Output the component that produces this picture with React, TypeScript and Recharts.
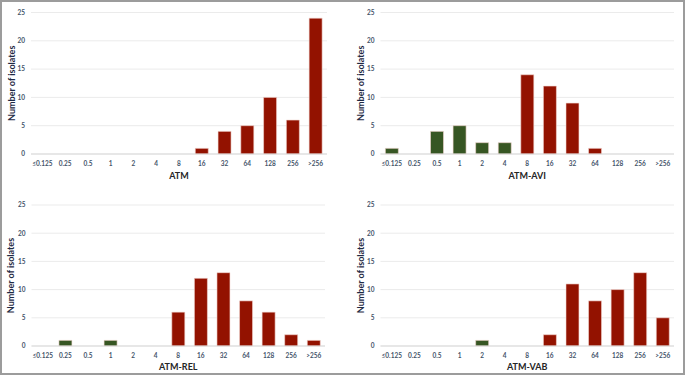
import { BarChart, Bar, XAxis, YAxis, CartesianGrid, Cell } from "recharts";

const micCategories = ["≤0.125", "0.25", "0.5", "1", "2", "4", "8", "16", "32", "64", "128", "256", ">256"];
const atmValues = [0, 0, 0, 0, 0, 0, 0, 1, 4, 5, 10, 6, 24];
const atmAviValues = [1, 0, 4, 5, 2, 2, 14, 12, 9, 1, 0, 0, 0];
const atmRelValues = [0, 1, 0, 1, 0, 0, 6, 12, 13, 8, 6, 2, 1];
const atmVabValues = [0, 0, 0, 0, 1, 0, 0, 2, 11, 8, 10, 13, 5];
const yTicks = [0, 5, 10, 15, 20, 25];
// MICs at or under the breakpoint get the green fill
const susceptibleCategories = ["≤0.125", "0.25", "0.5", "1", "2", "4"];

const RED = "#931200";
const GREEN = "#375623";

function Panel({
  title,
  values,
  left,
  top,
  width,
  height,
  margin,
  yAxisWidth,
  yLabelOffset,
  xAxisHeight,
  titleOffset,
  xTickMargin,
}: {
  title: string;
  values: number[];
  left: number;
  top: number;
  width: number;
  height: number;
  margin: { top: number; right: number; bottom: number; left: number };
  yAxisWidth: number;
  yLabelOffset: number;
  xAxisHeight: number;
  titleOffset: number;
  xTickMargin: number;
}) {
  const data = micCategories.map((mic, i) => ({ mic, count: values[i] }));
  return (
    <div style={{ position: "absolute", left, top, width, height }}>
      <BarChart width={width} height={height} data={data} margin={margin} barCategoryGap="21.5%">
        <CartesianGrid vertical={false} stroke="#ebebeb" />
        <XAxis
          dataKey="mic"
          interval={0}
          height={xAxisHeight}
          axisLine={{ stroke: "#d9d9d9" }}
          tickLine={false}
          tickSize={3}
          tickMargin={xTickMargin}
          tick={{ fontSize: 6.5, fill: "#44546a", fontWeight: 700 }}
          label={{
            value: title,
            position: "insideBottom",
            offset: titleOffset,
            style: { fontSize: 9, fontWeight: 700, fill: "#262626" },
          }}
        />
        <YAxis
          domain={[0, 25]}
          ticks={yTicks}
          width={yAxisWidth}
          axisLine={false}
          tickLine={false}
          tickSize={4}
          tickMargin={2}
          tick={{ fontSize: 6.5, fill: "#44546a", fontWeight: 700 }}
          label={{
            value: "Number of isolates",
            angle: -90,
            position: "insideLeft",
            offset: yLabelOffset,
            style: { fontSize: 9, fontWeight: 700, fill: "#1f2a44", textAnchor: "middle" },
          }}
        />
        <Bar dataKey="count" isAnimationActive={false} stroke="#f3d6d2" strokeWidth={0.6}>
          {data.map((d, i) => (
            <Cell key={i} fill={susceptibleCategories.includes(d.mic) ? GREEN : RED} />
          ))}
        </Bar>
      </BarChart>
    </div>
  );
}

export default function App() {
  return (
    <div
      style={{
        position: "absolute",
        left: 0,
        top: 0,
        width: 685,
        height: 375,
        background: "#fff",
        fontFamily: "Lato, 'Open Sans', sans-serif",
        border: "2px solid #9c9c9c",
        boxSizing: "border-box",
        overflow: "hidden",
      }}
    >
      <Panel
        title="ATM"
        values={atmValues}
        left={-2}
        top={-2}
        width={340}
        height={190}
        margin={{ top: 12.5, right: 13, bottom: 6, left: 0 }}
        yAxisWidth={31}
        yLabelOffset={12}
        xAxisHeight={30}
        titleOffset={5.5}
        xTickMargin={4.5}
      />
      <Panel
        title="ATM-AVI"
        values={atmAviValues}
        left={338}
        top={-2}
        width={345}
        height={190}
        margin={{ top: 12.5, right: 11, bottom: 6, left: 0 }}
        yAxisWidth={40.5}
        yLabelOffset={21}
        xAxisHeight={30}
        titleOffset={5.5}
        xTickMargin={4.5}
      />
      <Panel
        title="ATM-REL"
        values={atmRelValues}
        left={-2}
        top={188}
        width={340}
        height={185}
        margin={{ top: 15, right: 15, bottom: 3, left: 0 }}
        yAxisWidth={31.5}
        yLabelOffset={11}
        xAxisHeight={26}
        titleOffset={2.5}
        xTickMargin={4}
      />
      <Panel
        title="ATM-VAB"
        values={atmVabValues}
        left={338}
        top={188}
        width={345}
        height={185}
        margin={{ top: 15, right: 11, bottom: 3, left: 0 }}
        yAxisWidth={40.5}
        yLabelOffset={21}
        xAxisHeight={26}
        titleOffset={2.5}
        xTickMargin={4}
      />
    </div>
  );
}
